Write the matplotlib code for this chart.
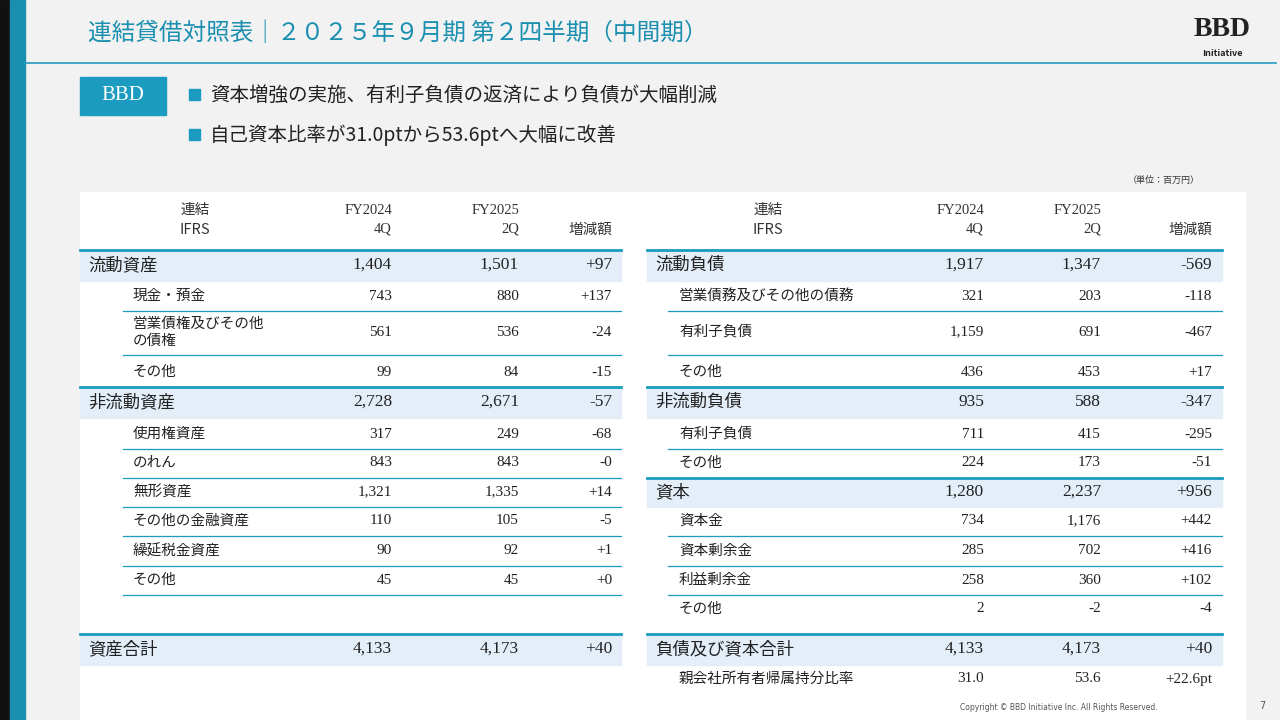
import matplotlib
matplotlib.use("Agg")
import matplotlib.pyplot as plt
from matplotlib.patches import Rectangle

JP = "Noto Sans CJK JP"
SERIF = "Liberation Serif"
TEAL = "#1a9bbf"
BAND = "#e3eef9"

# ---- data ----
left_labels = ["流動資産", "現金・預金", "営業債権及びその他\nの債権", "その他", "非流動資産", "使用権資産", "のれん",
               "無形資産", "その他の金融資産", "繰延税金資産", "その他", "", "資産合計"]
left_fy24 = ["1,404", "743", "561", "99", "2,728", "317", "843", "1,321", "110", "90", "45", "", "4,133"]
left_fy25 = ["1,501", "880", "536", "84", "2,671", "249", "843", "1,335", "105", "92", "45", "", "4,173"]
left_diff = ["+97", "+137", "-24", "-15", "-57", "-68", "-0", "+14", "-5", "+1", "+0", "", "+40"]
left_major = [True, False, False, False, True, False, False, False, False, False, False, False, True]

right_labels = ["流動負債", "営業債務及びその他の債務", "有利子負債", "その他", "非流動負債", "有利子負債", "その他",
                "資本", "資本金", "資本剰余金", "利益剰余金", "その他", "負債及び資本合計", "親会社所有者帰属持分比率"]
right_fy24 = ["1,917", "321", "1,159", "436", "935", "711", "224", "1,280", "734", "285", "258", "2", "4,133", "31.0"]
right_fy25 = ["1,347", "203", "691", "453", "588", "415", "173", "2,237", "1,176", "702", "360", "-2", "4,173", "53.6"]
right_diff = ["-569", "-118", "-467", "+17", "-347", "-295", "-51", "+956", "+442", "+416", "+102", "-4", "+40", "+22.6pt"]
right_major = [True, False, False, False, True, False, False, True, False, False, False, False, True, False]

header_cols = [("連結\nIFRS", "center"), ("FY2024\n4Q", "right"), ("FY2025\n2Q", "right"), ("\n増減額", "right")]

left_y = [265, 296, 332, 372, 402, 434, 463, 492, 521, 551, 580, 608, 649]
right_y = [265, 296, 332, 372, 402, 434, 463, 492, 521, 551, 580, 609, 649, 679]
row_h = [31, 29, 45, 29, 31, 29, 29, 29, 29, 29, 29, 29, 31, 29]

fig = plt.figure(figsize=(12.8, 7.2), dpi=100)
ax = fig.add_axes([0, 0, 1, 1])
ax.set_xlim(0, 1280)
ax.set_ylim(720, 0)
ax.axis("off")

ax.add_patch(Rectangle((0, 0), 1280, 720, color="#f2f2f2", zorder=0))
ax.add_patch(Rectangle((80, 192), 1165, 528, color="white", zorder=0))
ax.add_patch(Rectangle((0, 0), 10, 720, color="#111111", zorder=1))
ax.add_patch(Rectangle((10, 0), 15, 720, color="#1a8fb0", zorder=1))

ax.text(88, 33, "連結貸借対照表｜２０２５年９月期 第２四半期（中間期）", fontfamily=JP, fontsize=17,
        color="#1a8fb0", va="center", ha="left")
ax.plot([25, 1276], [63, 63], color="#2a9cc0", lw=1.2)
ax.text(1222, 30, "BBD", fontfamily=SERIF, fontsize=20, fontweight="bold", color="#222222", ha="center", va="center")
ax.text(1222, 54, "Initiative", fontfamily=JP, fontsize=6.5, fontweight="bold", color="#222222", ha="center", va="center")

ax.add_patch(Rectangle((80, 77), 86, 38, color="#1a9bbf", zorder=2))
ax.text(123, 96, "BBD", fontfamily=SERIF, fontsize=15, color="white", ha="center", va="center", zorder=3)
for yy, t in [(95, "資本増強の実施、有利子負債の返済により負債が大幅削減"),
              (135, "自己資本比率が31.0ptから53.6ptへ大幅に改善")]:
    ax.add_patch(Rectangle((189, yy - 6), 11, 11, color="#1a9bbf"))
    ax.text(210, yy, t, fontfamily=JP, fontsize=14, color="#222222", va="center", ha="left")
ax.text(1200, 180, "（単位：百万円）", fontfamily=JP, fontsize=6.5, color="#333333", ha="right", va="center")


def draw_table(x0, x1, xl_major, xl_sub, xline_sub, hx0, colx, labels, a, b, c, major, ys):
    hx = [hx0, colx[0], colx[1], colx[2]]
    for (t, ha), x in zip(header_cols, hx):
        ax.text(x, 220, t, fontfamily=SERIF if "FY" in t else JP, fontsize=10.5, color="#333333",
                ha=ha, multialignment=ha, va="center", linespacing=1.5)
    for i, y in enumerate(ys):
        h = row_h[i]
        if major[i]:
            ax.add_patch(Rectangle((x0, y - h / 2), x1 - x0, h, color=BAND, zorder=1))
            ax.plot([x0, x1], [y - h / 2, y - h / 2], color=TEAL, lw=2, zorder=2)
            ax.text(xl_major, y, labels[i], fontfamily=JP, fontsize=12.5, color="#222222", va="center", zorder=3)
            fs = 12.5
        else:
            ax.text(xl_sub, y, labels[i], fontfamily=JP, fontsize=10.5, color="#222222", va="center",
                    linespacing=1.3, zorder=3)
            fs = 11
            nxt = i + 1
            if nxt < len(ys) and not major[nxt]:
                ax.plot([xline_sub, x1], [y + h / 2, y + h / 2], color=TEAL, lw=0.9, zorder=2)
        for v, x in zip((a[i], b[i], c[i]), colx):
            ax.text(x, y, v, fontfamily=SERIF, fontsize=fs, color="#222222", ha="right", va="center", zorder=3)


draw_table(80, 621, 88, 133, 123, 195, [392, 519, 612], left_labels, left_fy24, left_fy25, left_diff, left_major, left_y)
draw_table(647, 1222, 655, 679, 668, 768, [984, 1101, 1212], right_labels, right_fy24, right_fy25, right_diff, right_major, right_y)

ax.text(1158, 708, "Copyright © BBD Initiative Inc. All Rights Reserved.", fontsize=5.5, color="#555555",
        ha="right", va="center")
ax.text(1262, 706, "7", fontsize=7, color="#555555", ha="center", va="center")

fig.savefig("out.png", dpi=100)
